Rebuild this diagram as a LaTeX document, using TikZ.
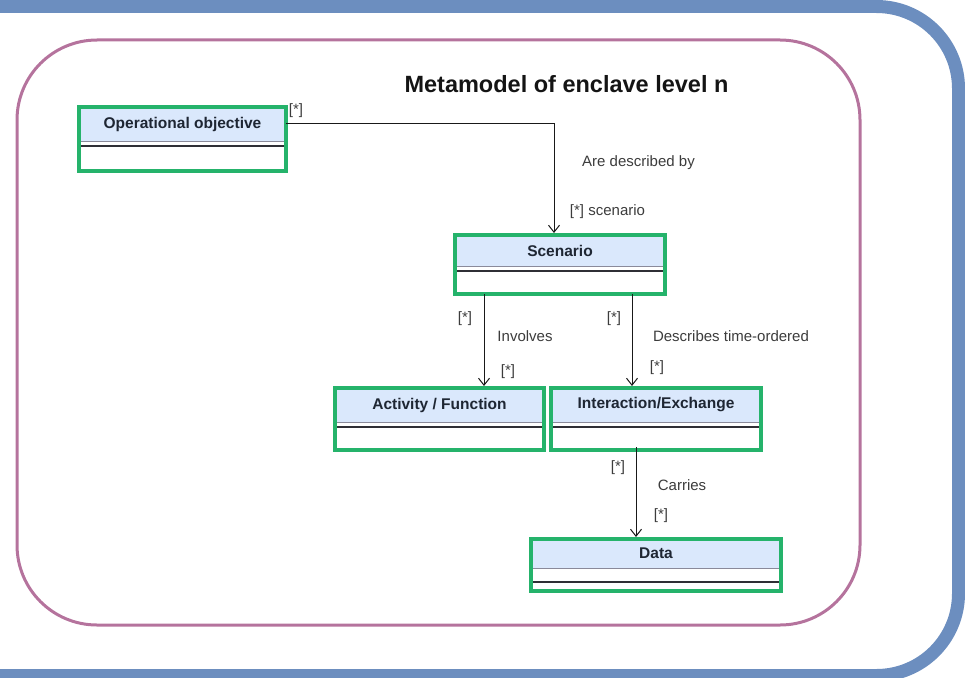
\documentclass[tikz,border=0pt]{standalone}
\usepackage{fontspec}
\setmainfont{Liberation Sans}
\usetikzlibrary{arrows.meta,calc}

\definecolor{frameblue}{HTML}{6C8EBF}
\definecolor{framepink}{HTML}{B5739D}
\definecolor{classgreen}{RGB}{37,179,107}
\definecolor{headblue}{HTML}{DAE8FC}
\definecolor{titleink}{HTML}{1E2633}
\definecolor{labelgray}{HTML}{3C3C3C}
\definecolor{rulegray}{HTML}{8A8A9A}
\definecolor{ruledark}{HTML}{2F2F35}

\tikzset{
  classbody/.style={fill=white, inner sep=0pt, outer sep=0pt},
  classborder/.style={draw=classgreen, line width=4pt},
  headrule/.style={draw=rulegray, line width=1pt},
  divrule/.style={draw=ruledark, line width=1.3pt},
  classtitle/.style={font=\fontsize{15.5}{18}\selectfont\bfseries, text=titleink, inner sep=0pt},
  assoc/.style={draw=black!90, line width=1pt, shorten >=2pt,
    -{Straight Barb[length=7pt,width=11pt]}},
  lbl/.style={font=\fontsize{15}{18}\selectfont, text=labelgray, inner sep=0pt},
  heading/.style={font=\fontsize{23.5}{28}\selectfont\bfseries, text=black!92, inner sep=0pt},
}

% UML class box: name, x, y, width, height, header depth, divider depth, title
\newcommand{\umlclass}[8]{%
  \node[classbody, minimum width=#4pt, minimum height=#5pt] (#1) at (#2,#3) {};
  \fill[headblue] (#1.north west) rectangle ([yshift=-#6pt]#1.north east);
  \draw[headrule] ([yshift=-#6pt]#1.north west) -- ([yshift=-#6pt]#1.north east);
  \draw[divrule] ([yshift=-#7pt]#1.north west) -- ([yshift=-#7pt]#1.north east);
  \node[classtitle] (#1-title) at ($(#1.north west)!0.5!([yshift=-#6pt]#1.north east)$) {#8};
  \draw[classborder] (#1.north west) rectangle (#1.south east);
}

\begin{document}
\begin{tikzpicture}[x=1pt, y=-1pt]
  \useasboundingbox (0,0) rectangle (965,677);

  % outer frame and enclave boundary
  \draw[frameblue, line width=13pt, rounded corners=82pt]
    (-30,6.5) -- (958.5,6.5) -- (958.5,675.5) -- (-30,675.5);
  \draw[framepink, line width=3pt, rounded corners=80pt] (17,40) rectangle (860,625);

  \node[heading] (title) at (566.5,84) {Metamodel of enclave level n};

  % classes
  \umlclass{oo}{182.5}{139}{207}{64}{34}{39}{Operational objective}
  \umlclass{sc}{560}{264.5}{210}{59}{31}{36}{Scenario}
  \umlclass{af}{439.5}{419}{209}{62}{34}{39}{Activity / Function}
  \umlclass{ie}{656}{419}{210}{62}{34}{39}{Interaction/Exchange}
  \umlclass{da}{656}{565}{250}{52}{29}{43}{Data}

  % associations
  \draw[assoc] ([yshift=16pt]oo.east) -| ([xshift=-6pt]sc.north);
  \draw[assoc] ([xshift=-76pt]sc.south) -- ([xshift=44.5pt]af.north);
  \draw[assoc] ([xshift=72pt]sc.south) -- ([xshift=-24pt]ie.north);
  \draw[assoc] ([xshift=-20pt,yshift=3pt]ie.south) -- ([xshift=-20pt]da.north);

  % association labels
  \node[lbl] (m1) at (296,111) {[*]};
  \node[lbl] (r1) at (638.5,163) {Are described by};
  \node[lbl] (m2) at (607.5,212) {[*] scenario};
  \node[lbl] (m3) at (465,319) {[*]};
  \node[lbl] (r2) at (525,336) {Involves};
  \node[lbl] (m4) at (508,372) {[*]};
  \node[lbl] (m5) at (614,319) {[*]};
  \node[lbl] (r3) at (731,336) {Describes time-ordered};
  \node[lbl] (m6) at (657,368) {[*]};
  \node[lbl] (m7) at (618,468) {[*]};
  \node[lbl] (r4) at (682,485) {Carries};
  \node[lbl] (m8) at (661,516) {[*]};
\end{tikzpicture}
\end{document}
